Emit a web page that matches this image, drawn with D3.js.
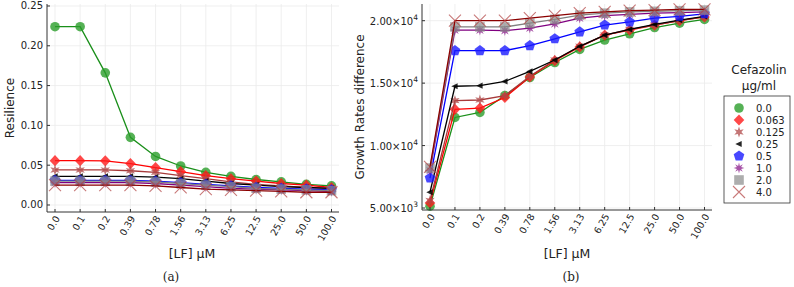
<!DOCTYPE html>
<html>
<head>
<meta charset="utf-8">
<script src="https://cdn.jsdelivr.net/npm/d3@7"></script>
<style>
  body { margin: 0; background: #fff; }
  text { font-family: "DejaVu Sans", sans-serif; fill: #222; }
</style>
</head>
<body>
<div class="chart"></div>
<script>
// Categories on the x axis ([LF] in µM)
const lfLabels = ["0.0", "0.1", "0.2", "0.39", "0.78", "1.56", "3.13", "6.25", "12.5", "25.0", "50.0", "100.0"];

// Cefazolin concentrations (legend)
const cefazolin = ["0.0", "0.063", "0.125", "0.25", "0.5", "1.0", "2.0", "4.0"];

// Panel (a): Resilience
const res00 = [0.224, 0.224, 0.166, 0.085, 0.061, 0.049, 0.041, 0.036, 0.032, 0.029, 0.026, 0.024];
const res0063 = [0.0557, 0.0557, 0.0555, 0.052, 0.047, 0.042, 0.037, 0.033, 0.030, 0.027, 0.025, 0.022];
const res0125 = [0.044, 0.044, 0.044, 0.043, 0.041, 0.037, 0.033, 0.029, 0.026, 0.024, 0.022, 0.021];
const res025 = [0.036, 0.036, 0.036, 0.036, 0.035, 0.033, 0.030, 0.027, 0.025, 0.023, 0.022, 0.021];
const res05 = [0.031, 0.031, 0.031, 0.031, 0.030, 0.028, 0.026, 0.024, 0.022, 0.021, 0.020, 0.019];
const res10 = [0.028, 0.028, 0.028, 0.028, 0.027, 0.025, 0.023, 0.021, 0.020, 0.019, 0.018, 0.017];
const res20 = [0.030, 0.030, 0.030, 0.030, 0.029, 0.027, 0.025, 0.023, 0.021, 0.020, 0.019, 0.018];
const res40 = [0.025, 0.025, 0.025, 0.025, 0.024, 0.022, 0.020, 0.019, 0.018, 0.017, 0.016, 0.016];

// Panel (b): Growth Rates difference
const gr00 = [5150, 12250, 12650, 14000, 15450, 16650, 17700, 18450, 18950, 19450, 19800, 20100];
const gr0063 = [5400, 12900, 13000, 13850, 15500, 16800, 17900, 18850, 19250, 19650, 20000, 20300];
const gr0125 = [5600, 13600, 13650, 14000, 15550, 16850, 17950, 18850, 19300, 19650, 20000, 20300];
const gr025 = [6260, 14750, 14800, 15140, 15940, 16850, 17950, 18850, 19300, 19700, 20050, 20350];
const gr05 = [7400, 17600, 17600, 17600, 18000, 18550, 19100, 19650, 19900, 20200, 20350, 20550];
const gr10 = [8000, 19250, 19250, 19200, 19400, 19750, 20200, 20400, 20500, 20600, 20650, 20700];
const gr20 = [8200, 19500, 19500, 19500, 19800, 20100, 20450, 20600, 20700, 20750, 20800, 20850];
const gr40 = [8300, 20000, 20000, 20000, 20200, 20400, 20600, 20700, 20800, 20850, 20900, 20900];

const resTicks = [0.00, 0.05, 0.10, 0.15, 0.20, 0.25];
const grTicks = [5000, 10000, 15000, 20000];

const resSeries = [res00, res0063, res0125, res025, res05, res10, res20, res40];
const grSeries = [gr00, gr0063, gr0125, gr025, gr05, gr10, gr20, gr40];

// styling per series
const styles = [
  { line: "#1a8f1a", fill: "#2a9d2a", alpha: 0.8, shape: "circle" },
  { line: "#ff0000", fill: "#ff1a1a", alpha: 0.8, shape: "diamond" },
  { line: "#a83a3a", fill: "#b04848", alpha: 0.75, shape: "star6" },
  { line: "#000000", fill: "#000000", alpha: 0.85, shape: "ltriangle" },
  { line: "#0000ff", fill: "#1a1aff", alpha: 0.8, shape: "pentagon" },
  { line: "#800080", fill: "#8a1a8a", alpha: 0.75, shape: "star8" },
  { line: "#808080", fill: "#8a8a8a", alpha: 0.7, shape: "rect" },
  { line: "#8b0000", fill: "#b04040", alpha: 0.55, shape: "xcross" },
];

function polyPath(n, rOut, rIn, rot) {
  const pts = [];
  const k = rIn ? 2 * n : n;
  for (let i = 0; i < k; i++) {
    const r = rIn && i % 2 === 1 ? rIn : rOut;
    const a = rot + (i * 2 * Math.PI) / k;
    pts.push([r * Math.cos(a), r * Math.sin(a)]);
  }
  return "M" + pts.map((p) => p[0].toFixed(2) + "," + p[1].toFixed(2)).join("L") + "Z";
}

function markerPath(shape) {
  switch (shape) {
    case "circle":
      return "M4.8,0A4.8,4.8,0,1,1,-4.8,0A4.8,4.8,0,1,1,4.8,0Z";
    case "diamond":
      return "M0,-5.6L5.3,0L0,5.6L-5.3,0Z";
    case "star6":
      return polyPath(6, 5.4, 2.4, -Math.PI / 2);
    case "ltriangle":
      return "M-3.7,0L2.7,-3.1L2.7,3.1Z";
    case "pentagon":
      return polyPath(5, 5.6, 0, -Math.PI / 2);
    case "star8":
      return polyPath(8, 5.4, 2.3, -Math.PI / 2);
    case "rect":
      return "M-4.8,-4.8L4.8,-4.8L4.8,4.8L-4.8,4.8Z";
    case "xcross":
      return "M-6,-6L6,6M-6,6L6,-6";
  }
}

const svg = d3.select(".chart").append("svg").attr("width", 794).attr("height", 287);

function drawMarker(g, shape, st, x, y) {
  const p = g.append("path").attr("d", markerPath(shape)).attr("transform", `translate(${x},${y})`);
  if (shape === "xcross") {
    p.attr("fill", "none").attr("stroke", st.fill).attr("stroke-width", 1.1).attr("stroke-opacity", st.alpha + 0.15);
  } else {
    p.attr("fill", st.fill).attr("fill-opacity", st.alpha);
  }
}

function panel(opt) {
  const g = svg.append("g");
  const x = d3.scalePoint().domain(lfLabels).range([opt.left + 8, opt.right - 7.5]);
  const y = d3.scaleLinear().domain(opt.yDomain).range([opt.bottom, opt.top]);

  // grid
  g.selectAll(".vgrid").data(lfLabels).join("line")
    .attr("x1", (d) => x(d)).attr("x2", (d) => x(d))
    .attr("y1", opt.top).attr("y2", opt.bottom)
    .attr("stroke", "#ebebeb").attr("stroke-width", 0.8);
  g.selectAll(".hgrid").data(opt.ticks).join("line")
    .attr("x1", opt.left).attr("x2", opt.right)
    .attr("y1", (d) => y(d)).attr("y2", (d) => y(d))
    .attr("stroke", "#ebebeb").attr("stroke-width", 0.8);

  // series
  opt.series.forEach((vals, i) => {
    const st = styles[i];
    const line = d3.line().x((d, j) => x(lfLabels[j])).y((d) => y(d));
    g.append("path").datum(vals).attr("d", line)
      .attr("fill", "none").attr("stroke", st.line).attr("stroke-width", 1.3);
    vals.forEach((v, j) => drawMarker(g, st.shape, st, x(lfLabels[j]), y(v)));
  });

  // axes
  g.append("line").attr("x1", opt.left).attr("x2", opt.right).attr("y1", opt.bottom).attr("y2", opt.bottom)
    .attr("stroke", "#333").attr("stroke-width", 1);
  g.append("line").attr("x1", opt.left).attr("x2", opt.left).attr("y1", opt.top).attr("y2", opt.bottom)
    .attr("stroke", "#333").attr("stroke-width", 1);
  g.selectAll(".xt").data(lfLabels).join("line")
    .attr("x1", (d) => x(d)).attr("x2", (d) => x(d))
    .attr("y1", opt.bottom).attr("y2", opt.bottom - 3).attr("stroke", "#333");
  g.selectAll(".yt").data(opt.ticks).join("line")
    .attr("x1", opt.left).attr("x2", opt.left + 3)
    .attr("y1", (d) => y(d)).attr("y2", (d) => y(d)).attr("stroke", "#333");

  // x tick labels, rotated
  g.selectAll(".xl").data(lfLabels).join("text")
    .attr("transform", (d) => `translate(${x(d) + 3},${opt.bottom + 5}) rotate(-60)`)
    .attr("text-anchor", "end").attr("dominant-baseline", "middle")
    .style("font-size", "9.5px").text((d) => d);

  // y tick labels
  const yl = g.selectAll(".yl").data(opt.ticks).join("text")
    .attr("x", opt.left - 4).attr("y", (d) => y(d))
    .attr("text-anchor", "end").attr("dominant-baseline", "central")
    .style("font-size", "10px");
  opt.tickFormat(yl);

  // axis titles
  g.append("text").attr("transform", `translate(${opt.yTitleX},${(opt.top + opt.bottom) / 2}) rotate(-90)`)
    .attr("text-anchor", "middle").attr("dominant-baseline", "central")
    .style("font-size", "12px").text(opt.yTitle);
  g.append("text").attr("x", opt.xTitleX).attr("y", 253)
    .attr("text-anchor", "middle").attr("dominant-baseline", "central")
    .style("font-size", "12.5px").text("[LF] μM");
  g.append("text").attr("x", opt.captionX).attr("y", 277)
    .attr("text-anchor", "middle").attr("dominant-baseline", "central")
    .style("font-family", "'DejaVu Serif', serif").style("font-size", "12px").text(opt.caption);
}

panel({
  left: 47, right: 339, top: 4, bottom: 212,
  yDomain: [-0.0088, 0.2525], ticks: resTicks, series: resSeries,
  tickFormat: (sel) => sel.text((d) => d.toFixed(2)),
  yTitle: "Resilience", yTitleX: 10, xTitleX: 192, captionX: 171, caption: "(a)",
});

panel({
  left: 422, right: 712, top: 4, bottom: 210,
  yDomain: [4840, 21337], ticks: grTicks, series: grSeries,
  tickFormat: (sel) => sel.each(function (d) {
    const e = Math.floor(Math.log10(d));
    const m = (d / Math.pow(10, e)).toFixed(2);
    const t = d3.select(this);
    t.append("tspan").text(m + "×10");
    t.append("tspan").attr("dy", -4).style("font-size", "7.5px").text(e);
  }),
  yTitle: "Growth Rates difference", yTitleX: 360, xTitleX: 567, captionX: 571, caption: "(b)",
});

// legend
const lg = svg.append("g");
lg.append("text").attr("x", 759).attr("y", 70).attr("text-anchor", "middle")
  .attr("dominant-baseline", "central").style("font-size", "12px").text("Cefazolin");
lg.append("text").attr("x", 759).attr("y", 86).attr("text-anchor", "middle")
  .attr("dominant-baseline", "central").style("font-size", "12px").text("μg/ml");
lg.append("rect").attr("x", 724).attr("y", 96).attr("width", 66).attr("height", 107)
  .attr("fill", "#fff").attr("stroke", "#333").attr("stroke-width", 0.8);
cefazolin.forEach((c, i) => {
  const yy = 108 + i * 12;
  drawMarker(lg, styles[i].shape, styles[i], 739, yy);
  lg.append("text").attr("x", 756).attr("y", yy).attr("dominant-baseline", "central")
    .style("font-size", "10px").text(c);
});
</script>
</body>
</html>
